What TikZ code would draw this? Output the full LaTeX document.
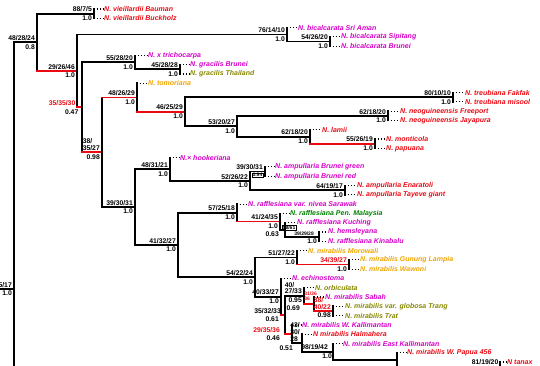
\documentclass[tikz,border=0pt]{standalone}
\usepackage{fontspec}
\setmainfont{Liberation Sans}
\usetikzlibrary{calc}
\definecolor{cred}{RGB}{235,10,20}
\definecolor{cmag}{RGB}{215,0,200}
\definecolor{colive}{RGB}{135,135,0}
\definecolor{corange}{RGB}{240,165,0}
\definecolor{cgreen}{RGB}{0,130,0}
\newcommand\lab[4][black]{%
  \node[bs,text=#1] (#2b) at ($(#2)+(-2,-1.5)$) {#3};
  \node[pp] (#2p) at ($(#2)+(-2,2)$) {#4};}
\begin{document}
\begin{tikzpicture}[x=1pt,y=-1pt,
  br/.style={line width=1.8pt,line cap=rect,black},
  rbr/.style={br,draw=cred},
  dots/.style={line width=1.2pt,dash pattern=on 1.2pt off 1.8pt,black},
  leaf/.style={font=\fontsize{7}{8}\selectfont\bfseries\itshape,inner sep=0pt,anchor=west},
  bs/.style={font=\fontsize{6.8}{6.8}\selectfont\bfseries,inner sep=0pt,anchor=south east,align=left},
  pp/.style={font=\fontsize{6.8}{6.8}\selectfont\bfseries,inner sep=0pt,anchor=north east,align=left},
  tiny/.style={font=\fontsize{5}{5}\selectfont\bfseries}]
\useasboundingbox (0,0) rectangle (540,366);
\clip (0,0) rectangle (540,366);
% internal nodes
\coordinate (root) at (14,289);
\coordinate (rootin) at (-5,289);
\coordinate (rootbot) at (14,380);
\coordinate (n4828) at (37,42.3);
\coordinate (vie) at (94,13.65);
\coordinate (n29) at (77,71.0);
\coordinate (bic) at (287,34.6);
\coordinate (bic2) at (330,41.55);
\coordinate (n35) at (82,107.35);
\coordinate (tri) at (135,62.4);
\coordinate (gra) at (180,69.35);
\coordinate (n38) at (102,152.3);
\coordinate (n48) at (137,97.5);
\coordinate (n46) at (185,111.8);
\coordinate (tre) at (453,97.25);
\coordinate (n53) at (237,126.3);
\coordinate (neo) at (388,115.85);
\coordinate (lam) at (310,136.8);
\coordinate (mon) at (375,143.75);
\coordinate (n39) at (135,207.05);
\coordinate (n4831) at (170,169.2);
\coordinate (n52) at (250,180.85);
\coordinate (amp1) at (265,171.55);
\coordinate (amp2) at (345,190.15);
\coordinate (n41) at (178,244.9);
\coordinate (n57) at (237,212.8);
\coordinate (n4124) at (280,221.5);
\coordinate (kuc) at (285,229.7);
\coordinate (hem) at (319,236.65);
\coordinate (n54) at (255,277.05);
\coordinate (n51) at (297,257.5);
\coordinate (n34) at (349,264.45);
\coordinate (P) at (281,296.6);
\coordinate (Q) at (285,314.85);
\coordinate (O) at (304,295.8);
\coordinate (V) at (314,303.98);
\coordinate (W) at (333,310.95);
\coordinate (R) at (292,333.9);
\coordinate (S) at (302,342.9);
\coordinate (T) at (333,351.6);
\coordinate (U) at (397,359.7);
\coordinate (n81) at (500,366.65);
\coordinate (n81bot) at (500,380);
% leaves
\node[leaf,text=cred] (l1) at (104,9.0) {N. vieillardii Bauman};
\node[leaf,text=cred] (l2) at (104,18.3) {N. vieillardii Buckholz};
\node[leaf,text=cmag] (l3) at (298,27.6) {N. bicalcarata Sri Aman};
\node[leaf,text=cmag] (l4) at (341,36.9) {N. bicalcarata Sipitang};
\node[leaf,text=cmag] (l5) at (341,46.2) {N. bicalcarata Brunei};
\node[leaf,text=cmag] (l6) at (148,55.5) {N. x trichocarpa};
\node[leaf,text=cmag] (l7) at (190,64.7) {N. gracilis Brunei};
\node[leaf,text=colive] (l8) at (190,74.0) {N. gracilis Thailand};
\node[leaf,text=corange] (l9) at (148,83.3) {N. tomoriana};
\node[leaf,text=cred] (l10) at (465,92.6) {N. treubiana Fakfak};
\node[leaf,text=cred] (l11) at (465,101.9) {N. treubiana misool};
\node[leaf,text=cred] (l12) at (400,111.2) {N. neoguineensis Freeport};
\node[leaf,text=cred] (l13) at (400,120.5) {N. neoguineensis Jayapura};
\node[leaf,text=cred] (l14) at (322,129.8) {N. lamii};
\node[leaf,text=cred] (l15) at (386,139.1) {N. monticola};
\node[leaf,text=cred] (l16) at (386,148.4) {N. papuana};
\node[leaf,text=cmag] (l17) at (180,157.6) {N.× hookeriana};
\node[leaf,text=cmag] (l18) at (275,166.9) {N. ampullaria Brunei green};
\node[leaf,text=cmag] (l19) at (275,176.2) {N. ampullaria Brunei red};
\node[leaf,text=cred] (l20) at (357,185.5) {N. ampullaria Enaratoli};
\node[leaf,text=cred] (l21) at (357,194.8) {N. ampullaria Tayeve giant};
\node[leaf,text=cmag] (l22) at (248,204.1) {N. rafflesiana var. nivea Sarawak};
\node[leaf,text=cgreen] (l23) at (290,213.4) {N. rafflesiana Pen. Malaysia};
\node[leaf,text=cmag] (l24) at (297,222.7) {N. rafflesiana Kuching};
\node[leaf,text=cmag] (l25) at (328,232.0) {N. hemsleyana};
\node[leaf,text=cmag] (l26) at (328,241.3) {N. rafflesiana Kinabalu};
\node[leaf,text=corange] (l27) at (308,250.5) {N. mirabilis Morowali};
\node[leaf,text=corange] (l28) at (360,259.8) {N. mirabilis Gunung Lampia};
\node[leaf,text=corange] (l29) at (360,269.1) {N. mirabilis Wawoni};
\node[leaf,text=cmag] (l30) at (292,278.4) {N. echinostoma};
\node[leaf,text=colive] (l31) at (315,287.7) {N. orbiculata};
\node[leaf,text=cmag] (l32) at (325,297.0) {N. mirabilis Sabah};
\node[leaf,text=colive] (l33) at (345,306.3) {N. mirabilis var. globosa Trang};
\node[leaf,text=colive] (l34) at (345,315.6) {N. mirabilis Trat};
\node[leaf,text=cmag] (l35) at (302,324.9) {N. mirabilis W. Kallimantan};
\node[leaf,text=cred] (l36) at (313,334.2) {N mirabilis Halmahera};
\node[leaf,text=cmag] (l37) at (343,343.5) {N. mirabilis East Kallimantan};
\node[leaf,text=cred] (l38) at (407,352.7) {N. mirabilis W. Papua 456};
\node[leaf,text=cred] (l39) at (507,362.0) {N tanax};
% branches
\draw[br] (rootin) -- (root);
\draw[br] (root |- n4828) -- (rootbot);
\draw[br] (root |- n4828) -- (n4828);
\draw[br] (n4828 |- vie) -- (n4828 |- n29);
\draw[br] (n4828 |- vie) -- (vie);
\draw[br] (vie |- l1) -- (vie |- l2);
\draw[rbr] (n4828 |- n29) -- (n29);
\draw[br] (n29 |- bic) -- (n29 |- n35);
\draw[br] (n29 |- bic) -- (bic);
\draw[br] (bic |- l3) -- (bic |- bic2);
\draw[br] (bic |- bic2) -- (bic2);
\draw[br] (bic2 |- l4) -- (bic2 |- l5);
\draw[rbr] (n29 |- n35) -- (n35);
\draw[br] (n35 |- tri) -- (n35 |- n38);
\draw[br] (n35 |- tri) -- (tri);
\draw[br] (tri |- l6) -- (tri |- gra);
\draw[br] (tri |- gra) -- (gra);
\draw[br] (gra |- l7) -- (gra |- l8);
\draw[rbr] (n35 |- n38) -- (n38);
\draw[br] (n38 |- n48) -- (n38 |- n39);
\draw[rbr] (n38 |- n48) -- (n48);
\draw[br] (n48 |- l9) -- (n48 |- n46);
\draw[rbr] (n48 |- n46) -- (n46);
\draw[br] (n46 |- tre) -- (n46 |- n53);
\draw[br] (n46 |- tre) -- (tre);
\draw[br] (tre |- l10) -- (tre |- l11);
\draw[br] (n46 |- n53) -- (n53);
\draw[br] (n53 |- neo) -- (n53 |- lam);
\draw[br] (n53 |- neo) -- (neo);
\draw[br] (neo |- l12) -- (neo |- l13);
\draw[br] (n53 |- lam) -- (lam);
\draw[br] (lam |- l14) -- (lam |- mon);
\draw[rbr] (lam |- mon) -- (mon);
\draw[br] (mon |- l15) -- (mon |- l16);
\draw[br] (n38 |- n39) -- (n39);
\draw[br] (n39 |- n4831) -- (n39 |- n41);
\draw[br] (n39 |- n4831) -- (n4831);
\draw[br] (n4831 |- l17) -- (n4831 |- n52);
\draw[br] (n4831 |- n52) -- (n52);
\draw[br] (n52 |- amp1) -- (n52 |- amp2);
\draw[br] (n52 |- amp1) -- (amp1);
\draw[br] (amp1 |- l18) -- (amp1 |- l19);
\draw[br] (n52 |- amp2) -- (amp2);
\draw[br] (amp2 |- l20) -- (amp2 |- l21);
\draw[br] (n39 |- n41) -- (n41);
\draw[br] (n41 |- n57) -- (n41 |- n54);
\draw[br] (n41 |- n57) -- (n57);
\draw[br] (n57 |- l22) -- (n57 |- n4124);
\draw[rbr] (n57 |- n4124) -- (n4124);
\draw[br] (n4124 |- l23) -- (n4124 |- kuc);
\draw[br] (n4124 |- kuc) -- (kuc);
\draw[br] (kuc |- l24) -- (kuc |- hem);
\draw[br] (kuc |- hem) -- (hem);
\draw[br] (hem |- l25) -- (hem |- l26);
\draw[br] (n41 |- n54) -- (n54);
\draw[br] (n54 |- n51) -- (n54 |- P);
\draw[br] (n54 |- n51) -- (n51);
\draw[br] (n51 |- l27) -- (n51 |- n34);
\draw[rbr] (n51 |- n34) -- (n34);
\draw[br] (n34 |- l28) -- (n34 |- l29);
\draw[br] (n54 |- P) -- (P);
\draw[br] (P |- l30) -- (P |- Q);
\draw[rbr] (P |- Q) -- (Q);
\draw[br] (Q |- O) -- (Q |- R);
\draw[br] (Q |- O) -- (O);
\draw[br] (O |- l31) -- (O |- V);
\draw[rbr] (O |- V) -- (V);
\draw[br] (V |- l32) -- (V |- W);
\draw[rbr] (V |- W) -- (W);
\draw[br] (W |- l33) -- (W |- l34);
\draw[rbr] (Q |- R) -- (R);
\draw[br] (R |- l35) -- (R |- S);
\draw[br] (R |- S) -- (S);
\draw[br] (S |- l36) -- (S |- T);
\draw[br] (S |- T) -- (T);
\draw[br] (T |- l37) -- (T |- U);
\draw[br] (T |- U) -- (U);
\draw[br] (U |- l38) -- (U |- n81);
\draw[br] (U |- n81) -- (n81);
\draw[br] (n81 |- l39) -- (n81bot);
% leaf leaders
\foreach \p/\l in {vie/l1,vie/l2,bic/l3,bic2/l4,bic2/l5,tri/l6,gra/l7,gra/l8,n48/l9,
  tre/l10,tre/l11,neo/l12,neo/l13,lam/l14,mon/l15,mon/l16,n4831/l17,amp1/l18,amp1/l19,
  amp2/l20,amp2/l21,n57/l22,n4124/l23,kuc/l24,hem/l25,hem/l26,n51/l27,n34/l28,n34/l29,
  P/l30,O/l31,V/l32,W/l33,W/l34,R/l35,S/l36,T/l37,U/l38,n81/l39}
  {\draw[dots] (\p |- \l) ++(2.5,0) -- ([xshift=-1pt]\l.west);}
% support labels
\lab{vie}{88/7/5}{1.0}
\lab{n4828}{48/28/24}{0.8}
\lab{bic}{76/14/10}{1.0}
\lab{bic2}{54/26/20}{1.0}
\lab{n29}{29/26/46}{1.0}
\lab{tri}{55/28/20}{1.0}
\lab{gra}{45/28/28}{1.0}
\node[bs,text=cred] (n35b) at ($(n35)+(-6.5,-1.5)$) {35/35/30};
\node[pp] (n35p) at ($(n35)+(-3.5,2)$) {0.47};
\lab{n48}{48/26/29}{1.0}
\lab{n46}{46/25/29}{1.0}
\lab{tre}{80/10/10}{1.0}
\lab{neo}{62/18/20}{1.0}
\lab{n53}{53/20/27}{1.0}
\lab{lam}{62/18/20}{1.0}
\lab{mon}{55/26/19}{1.0}
\lab{n38}{38/\\35/27}{0.98}
\lab{n39}{39/30/31}{1.0}
\lab{n4831}{48/31/21}{1.0}
\node[bs] (amp1b) at ($(amp1)+(-2,-1.5)$) {39/30/31};
\node[pp,tiny,draw,line width=0.4pt,inner sep=0.5pt] (amp1p) at ($(amp1)+(-2,1.2)$) {0.94};
\lab{n52}{52/26/22}{1.0}
\lab{amp2}{64/19/17}{1.0}
\lab{n41}{41/32/27}{1.0}
\lab{n57}{57/25/18}{1.0}
\lab{n4124}{41/24/35}{1.0}
\node[pp,tiny,draw,line width=0.4pt,inner sep=0.5pt] (kucb) at ($(kuc)+(11,-4.5)$) {58/61};
\node[pp] (kucp) at ($(kuc)+(-6,1.5)$) {0.63};
\node[bs,tiny] (hemb) at ($(hem)+(-5,-1)$) {39/29/28};
\node[pp] (hemp) at ($(hem)+(-2,2)$) {1.0};
\lab{n54}{54/22/24}{1.0}
\lab{n51}{51/27/22}{1.0}
\lab[cred]{n34}{34/39/27}{1.0}
\lab{P}{40/33/27}{1.0}
\lab{O}{40/\\27/33}{0.95}
\node[bs,tiny,text=cred] (Vb) at ($(V)+(3,-3)$) {31/36\\36};
\node[pp] (Vp) at ($(V)+(-14,2)$) {0.69};
\node[bs,text=cred] (Wb) at ($(W)+(-2,-1.5)$) {38/\\40/22};
\node[pp] (Wp) at ($(W)+(-2,2)$) {0.98};
\node[bs] (Qb) at ($(Q)+(-4,-1.5)$) {35/32/33};
\node[pp] (Qp) at ($(Q)+(-6,2)$) {0.61};
\node[bs,text=cred] (Rb) at ($(R)+(-12,-1.5)$) {29/35/36};
\node[pp] (Rp) at ($(R)+(-12,2)$) {0.46};
\node[bs] (Sb) at ($(S)+(-2,-1.5)$) {43/\\30/\\28};
\node[pp] (Sp) at ($(S)+(-9,3)$) {0.51};
\node[bs] (Tb) at ($(T)+(-5,-1.5)$) {98/19/42};
\node[pp] (Tp) at ($(T)+(-1,2)$) {1.0};
\node[bs] (n81b) at ($(n81)+(-1.5,-2)$) {81/19/20};
\lab{root}{5/17}{1.0}
\end{tikzpicture}
\end{document}
